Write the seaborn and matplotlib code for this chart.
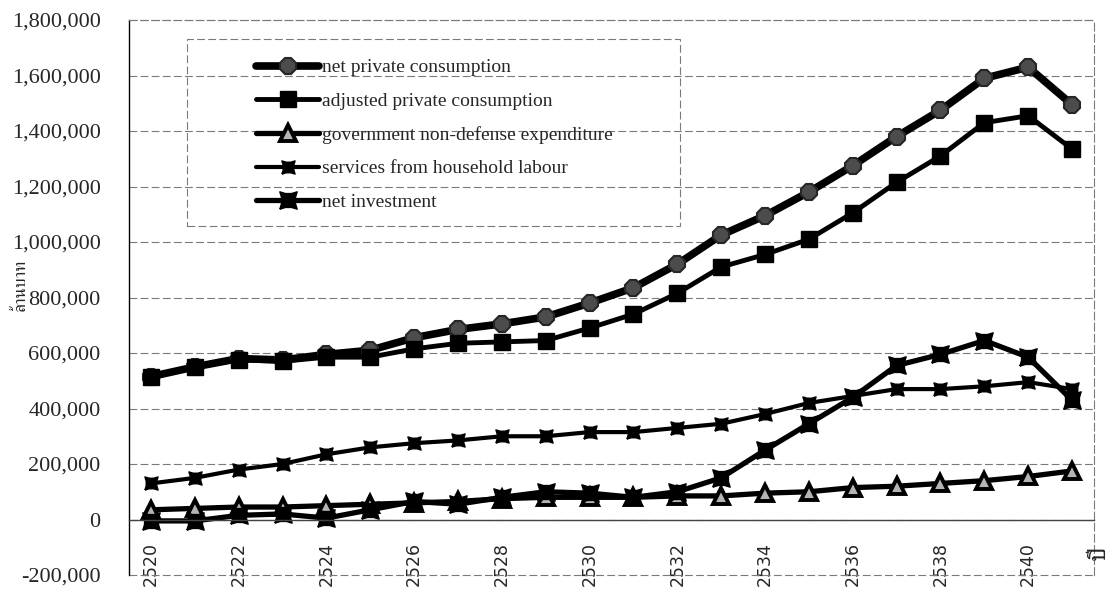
import matplotlib
matplotlib.use("Agg")
import matplotlib.pyplot as plt
from matplotlib.patches import Rectangle
from matplotlib.ticker import FuncFormatter, MultipleLocator
import seaborn as sns

years = list(range(2520, 2542))

net_private_consumption = [515000, 550000, 580000, 575000, 595000, 610000, 655000, 685000,
                           705000, 730000, 780000, 835000, 920000, 1025000, 1095000, 1180000,
                           1275000, 1380000, 1475000, 1590000, 1630000, 1495000]
adjusted_private_consumption = [515000, 550000, 575000, 570000, 585000, 585000, 615000, 635000,
                                640000, 645000, 690000, 740000, 815000, 910000, 955000, 1010000,
                                1105000, 1215000, 1310000, 1430000, 1455000, 1335000]
government_expenditure = [35000, 40000, 45000, 45000, 50000, 55000, 60000, 65000,
                          75000, 80000, 80000, 80000, 85000, 85000, 95000, 100000,
                          115000, 120000, 130000, 140000, 155000, 175000]
household_labour = [130000, 150000, 180000, 200000, 235000, 260000, 275000, 285000,
                    300000, 300000, 315000, 315000, 330000, 345000, 380000, 420000,
                    445000, 470000, 470000, 480000, 495000, 470000]
net_investment = [-5000, -5000, 15000, 20000, 5000, 35000, 65000, 55000,
                  80000, 100000, 95000, 80000, 100000, 150000, 250000, 345000,
                  440000, 555000, 595000, 645000, 585000, 430000]

labels = ["net private consumption", "adjusted private consumption",
          "government non-defense expenditure", "services from household labour",
          "net investment"]

sns.set_style("white")
plt.rcParams["font.family"] = ["Liberation Serif", "FreeSerif", "DejaVu Sans"]

# square with slightly pinched sides, used for the two "star" style markers
notched = [(-1, -1), (-0.35, -0.8), (0.35, -0.8), (1, -1), (0.8, -0.35), (0.8, 0.35),
           (1, 1), (0.35, 0.8), (-0.35, 0.8), (-1, 1), (-0.8, 0.35), (-0.8, -0.35), (-1, -1)]

fig = plt.figure(figsize=(11.18, 5.90), dpi=100)
ax = fig.add_axes([0.1154, 0.0254, 0.8631, 0.9407])

styles = [
    dict(data=net_private_consumption, lw=5.5, marker="8", ms=12.5, mfc="#4c4c4c", mec="#262626", mew=1.5),
    dict(data=adjusted_private_consumption, lw=3.5, marker="s", ms=11.5, mfc="black", mec="black", mew=1),
    dict(data=government_expenditure, lw=3.8, marker="^", ms=12, mfc="#b4b4b4", mec="black", mew=2.8),
    dict(data=household_labour, lw=3.0, marker=notched, ms=9.5, mfc="black", mec="black", mew=1),
    dict(data=net_investment, lw=3.8, marker=notched, ms=12.5, mfc="black", mec="black", mew=1),
]

for lab, st in zip(labels, styles):
    sns.lineplot(x=years, y=st["data"], ax=ax, color="black", linewidth=st["lw"],
                 marker=st["marker"], markersize=st["ms"], markerfacecolor=st["mfc"],
                 markeredgecolor=st["mec"], markeredgewidth=st["mew"], label=lab)

ax.set_xlim(2519.5, 2541.5)
ax.set_ylim(-200000, 1800000)

ax.yaxis.set_major_locator(MultipleLocator(200000))
ax.yaxis.set_major_formatter(FuncFormatter(lambda v, p: f"{int(v):,}"))
ax.grid(axis="y", color="#7a7a7a", linestyle=(0, (7, 3)), linewidth=0.8)
ax.set_axisbelow(True)

# category axis crossing at zero: labels on even years, ticks between categories
ax.spines["bottom"].set_position(("data", 0))
ax.spines["bottom"].set_color("#444444")
ax.spines["bottom"].set_linewidth(1.0)
ax.set_xticks(range(2520, 2541, 2))
ax.set_xticks([y + 0.5 for y in range(2520, 2541)], minor=True)
ax.tick_params(axis="x", which="major", length=0, labelrotation=90, pad=16)
ax.tick_params(axis="x", which="minor", length=6, width=1.0, color="#444444", direction="out")
for t in ax.get_xticklabels():
    t.set_fontfamily(["DejaVu Sans"])
    t.set_fontsize(12.5)
ax.tick_params(axis="y", which="major", length=6.5, width=0.8, color="#555555", direction="out",
               labelsize=16, pad=14)

ax.spines["left"].set_color("black")
ax.spines["left"].set_linewidth(1.0)
for side in ("top", "right"):
    ax.spines[side].set_color("#7a7a7a")
    ax.spines[side].set_linestyle((0, (7, 3)))
    ax.spines[side].set_linewidth(0.8)

fig.canvas.draw()
for gl in ax.get_ygridlines():
    gl.set_clip_on(False)

fig.text(0.019, 0.515, "ล้านบาท", rotation=90, ha="center", va="center", fontsize=12.5,
         family=["FreeSerif"])
fig.text(0.983, 0.063, "ปี", rotation=90, ha="center", va="center", fontsize=18,
         family=["FreeSerif"])

leg = ax.legend(loc="upper left", bbox_to_anchor=(0.1316, 0.93), frameon=False,
                fontsize=14, handlelength=3.25, handletextpad=0.15, labelspacing=0.82,
                borderpad=0, borderaxespad=0)
ax.add_patch(Rectangle((0.0601, 0.629), 0.511, 0.337, transform=ax.transAxes,
                       fill=False, edgecolor="#7a7a7a", linestyle=(0, (7, 3)), linewidth=0.8,
                       zorder=5))

fig.savefig("out.png", dpi=100)
